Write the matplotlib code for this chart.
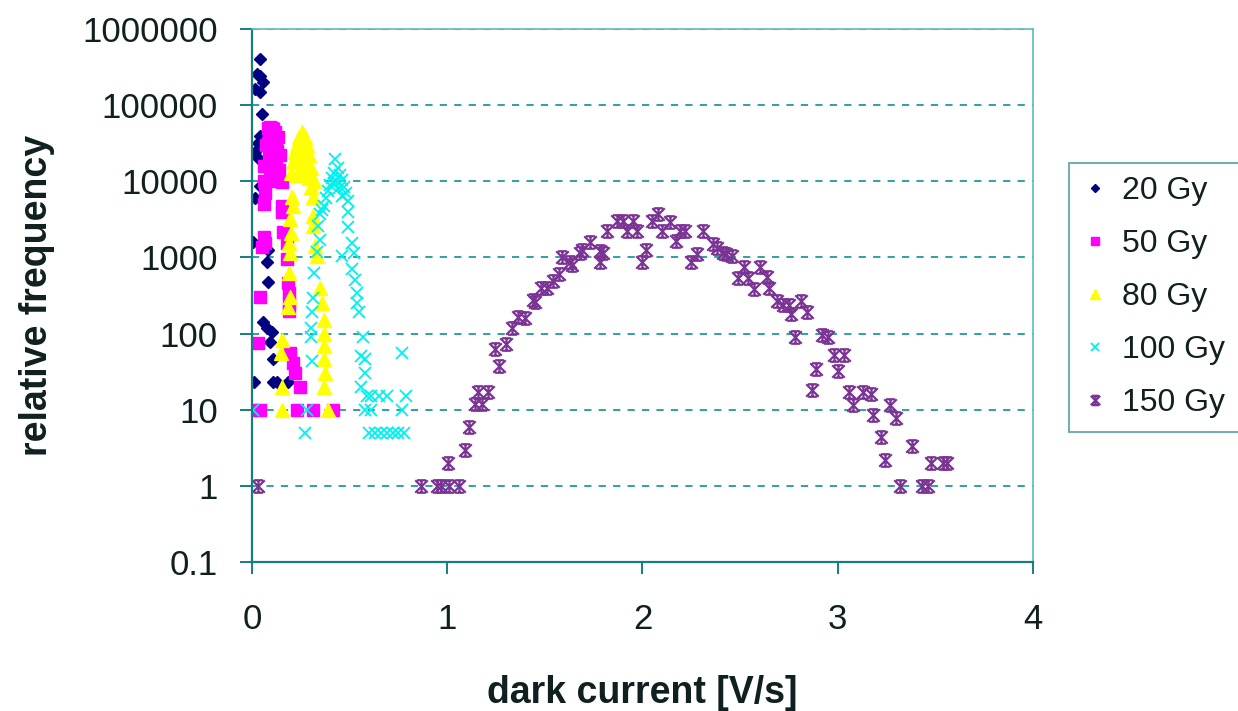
import numpy as np
import matplotlib
matplotlib.use("Agg")
import matplotlib.pyplot as plt
from matplotlib.path import Path
from matplotlib.ticker import FixedLocator, FixedFormatter, NullLocator

plt.rcParams['font.family'] = ['Liberation Sans', 'DejaVu Sans']

# ---- data (dark current in V/s, relative frequency) ----
gy20_x = [0.041, 0.024, 0.040, 0.057, 0.015, 0.040, 0.050, 0.040, 0.030, 0.052,
          0.015, 0.030, 0.040, 0.015, 0.007, 0.080, 0.075, 0.080, 0.056, 0.075,
          0.100, 0.092, 0.108, 0.010, 0.108, 0.128, 0.184]
gy20_y = [400000, 255000, 240000, 200000, 162000, 148000, 76000, 39000, 32000, 36000,
          24000, 20000, 8600, 6100, 1600, 1260, 880, 480, 140, 120,
          106, 78, 46, 23, 23, 23, 23]

gy50_x = [0.080, 0.090, 0.100, 0.110, 0.120, 0.085, 0.095, 0.105, 0.115, 0.125,
          0.080, 0.090, 0.100, 0.110, 0.120, 0.130, 0.085, 0.095, 0.105, 0.115,
          0.125, 0.140, 0.080, 0.100, 0.120, 0.155, 0.090, 0.110, 0.060, 0.060,
          0.065, 0.060, 0.155, 0.155, 0.060, 0.065, 0.050, 0.160, 0.180, 0.180,
          0.040, 0.185, 0.190, 0.190, 0.190, 0.030, 0.195, 0.210, 0.220, 0.245,
          0.005, 0.040, 0.230, 0.310, 0.415, 0.070, 0.135, 0.145]
gy50_y = [50000, 52000, 50000, 48000, 45000, 42000, 40000, 38000, 40000, 35000,
          32000, 30000, 28000, 30000, 27000, 25000, 22000, 20000, 22000, 20000,
          18000, 14000, 16000, 14000, 12000, 9700, 11000, 10000, 15700, 10000,
          7000, 5000, 4700, 3900, 1870, 1570, 1370, 2170, 1570, 950,
          300, 465, 345, 255, 195, 75, 56, 41, 30, 20,
          10, 10, 10, 10, 10, 30000, 38000, 22000]

gy80_x = [0.255, 0.240, 0.270, 0.230, 0.250, 0.280, 0.220, 0.260, 0.290, 0.210,
          0.240, 0.270, 0.300, 0.200, 0.230, 0.260, 0.290, 0.320, 0.300, 0.310,
          0.205, 0.210, 0.310, 0.310, 0.195, 0.200, 0.190, 0.195, 0.325, 0.335,
          0.190, 0.195, 0.185, 0.350, 0.360, 0.370, 0.370, 0.370, 0.370, 0.375,
          0.370, 0.155, 0.150, 0.155, 0.155, 0.390]
gy80_y = [44000, 38000, 38000, 30000, 32000, 30000, 24000, 25000, 22000, 18000,
          19000, 17000, 15000, 13000, 12000, 12500, 11000, 10000, 8300, 6300,
          6300, 4700, 3500, 2600, 3200, 2100, 1570, 1160, 1400, 1030,
          630, 305, 225, 400, 255, 150, 100, 68, 46, 30,
          20, 83, 56, 20, 10, 10]

gy100_x = [0.425, 0.400, 0.410, 0.420, 0.440, 0.450, 0.460, 0.470, 0.480, 0.390,
           0.430, 0.440, 0.420, 0.380, 0.370, 0.460, 0.490, 0.360, 0.350, 0.340,
           0.350, 0.335, 0.490, 0.490, 0.510, 0.520, 0.510, 0.530, 0.540, 0.540,
           0.550, 0.460, 0.320, 0.310, 0.305, 0.300, 0.300, 0.305, 0.270, 0.570,
           0.560, 0.580, 0.580, 0.560, 0.590, 0.610, 0.650, 0.690, 0.790, 0.770,
           0.580, 0.610, 0.770, 0.280, 0.005, 0.600, 0.630, 0.660, 0.690, 0.720,
           0.750, 0.780]
gy100_y = [19500, 9000, 11000, 13000, 15000, 12000, 10500, 8500, 7000, 7500,
           10000, 8000, 9500, 6000, 4700, 6500, 5500, 4200, 3700, 2600,
           1700, 1180, 3900, 2500, 1570, 1160, 700, 510, 345, 255,
           190, 1030, 630, 295, 190, 120, 91, 43, 5, 91,
           50, 46, 30, 20, 15, 15, 15, 15, 15, 56,
           10, 10, 10, 10, 10, 5, 5, 5, 5, 5,
           5, 5]

gy150_x = [0.03, 0.864, 0.95, 0.97, 1.01, 1.06, 1.006, 1.09, 1.11, 1.14,
           1.18, 1.16, 1.21, 1.265, 1.245, 1.30, 1.33, 1.36, 1.40, 1.44,
           1.45, 1.48, 1.51, 1.54, 1.57, 1.59, 1.63, 1.64, 1.68, 1.69,
           1.73, 1.78, 1.78, 1.80, 1.82, 1.87, 1.90, 1.92, 1.95, 1.97,
           2.00, 2.02, 2.05, 2.08, 2.10, 2.14, 2.17, 2.19, 2.22, 2.25,
           2.28, 2.31, 2.36, 2.38, 2.41, 2.43, 2.46, 2.49, 2.52, 2.54,
           2.57, 2.60, 2.64, 2.65, 2.69, 2.72, 2.75, 2.76, 2.81, 2.84,
           2.78, 2.92, 2.95, 2.98, 3.03, 2.89, 3.00, 2.87, 3.06, 3.13,
           3.17, 3.08, 3.18, 3.27, 3.30, 3.22, 3.24, 3.38, 3.32, 3.43,
           3.46, 3.48, 3.54, 3.56]
gy150_y = [1, 1, 1, 1, 1, 1, 2, 3, 6, 12,
           12, 17, 17, 37, 62, 74, 120, 167, 160, 280,
           256, 400, 400, 490, 600, 1000, 860, 800, 1160, 1270,
           1580, 1200, 860, 1160, 2200, 2980, 2980, 2200, 2980, 2200,
           860, 1270, 2980, 3700, 2200, 2900, 1620, 2200, 2200, 860,
           1100, 2200, 1480, 1350, 1160, 1100, 1030, 540, 760, 540,
           380, 740, 560, 400, 265, 240, 240, 180, 265, 190,
           91, 97, 91, 53, 53, 34, 32, 18, 17, 17,
           16, 11.6, 8.6, 11.6, 7.8, 4.4, 2.2, 3.3, 1, 1,
           1, 2, 2, 2]

series_labels = ["20 Gy", "50 Gy", "80 Gy", "100 Gy", "150 Gy"]
x_ticks = [0, 1, 2, 3, 4]
y_ticks = [0.1, 1, 10, 100, 1000, 10000, 100000, 1000000]
y_tick_labels = ["0.1", "1", "10", "100", "1000", "10000", "100000", "1000000"]

# Excel-like "star" marker: X with a vertical bar and short caps
star = Path([(-1, -1), (1, 1), (-1, 1), (1, -1), (0, -1), (0, 1),
             (-0.7, 1), (0.7, 1), (-0.7, -1), (0.7, -1)],
            [Path.MOVETO, Path.LINETO] * 5)

teal = '#1f9a9a'
text_col = '#102020'

fig = plt.figure(figsize=(12.38, 7.11), dpi=100)
ax = fig.add_axes([252 / 1238, 1 - 562 / 711, (1033 - 252) / 1238, (562 - 29) / 711])

ax.plot(gy20_x, gy20_y, ls='none', marker='D', ms=6, color='#000080', label=series_labels[0])
ax.plot(gy50_x, gy50_y, ls='none', marker='s', ms=8, color='#ff00ff', label=series_labels[1])
ax.plot(gy80_x, gy80_y, ls='none', marker='^', ms=9.5, color='#ffff00', label=series_labels[2])
ax.plot(gy100_x, gy100_y, ls='none', marker='x', ms=8, mew=1.3, color='#00f0f0', label=series_labels[3])
ax.plot(gy150_x, gy150_y, ls='none', marker=star, ms=9, mew=1.6, color='#7a3494', label=series_labels[4])

ax.set_yscale('log')
ax.set_xlim(0, 4)
ax.set_ylim(0.1, 1000000)
ax.set_xticks(x_ticks)
ax.set_xticklabels([str(t) for t in x_ticks])
ax.yaxis.set_major_locator(FixedLocator(y_ticks))
ax.yaxis.set_major_formatter(FixedFormatter(y_tick_labels))
ax.yaxis.set_minor_locator(NullLocator())

ax.grid(True, axis='y', which='major', color=teal, ls=(0, (4, 4)), lw=1.3)
ax.set_axisbelow(True)

for side in ['left', 'bottom']:
    ax.spines[side].set_color('#157f7f')
    ax.spines[side].set_linewidth(1.6)
for side in ['top', 'right']:
    ax.spines[side].set_color('#5cbcbc')
    ax.spines[side].set_linewidth(1.2)

ax.tick_params(axis='both', direction='out', length=8.5, width=1.4, color='#157f7f',
               labelsize=25, labelcolor=text_col)
ax.tick_params(axis='x', pad=21)
ax.tick_params(axis='y', pad=16)

ax.set_xlabel('dark current [V/s]', fontsize=27, fontweight='bold', color=text_col, labelpad=28)
ax.set_ylabel('relative frequency', fontsize=27, fontweight='bold', color=text_col, labelpad=20)

leg = fig.legend(loc='upper left', bbox_to_anchor=(1069 / 1238, 1 - 163 / 711),
                 bbox_transform=fig.transFigure, fontsize=23, frameon=True, fancybox=False,
                 borderaxespad=0, borderpad=0.42, labelspacing=0.72, handlelength=0.8,
                 handletextpad=0.45, markerscale=0.75)
leg.get_frame().set_edgecolor('#3f8f8f')
leg.get_frame().set_linewidth(1.3)
for t in leg.get_texts():
    t.set_color(text_col)

fig.savefig('out.png', dpi=100)
